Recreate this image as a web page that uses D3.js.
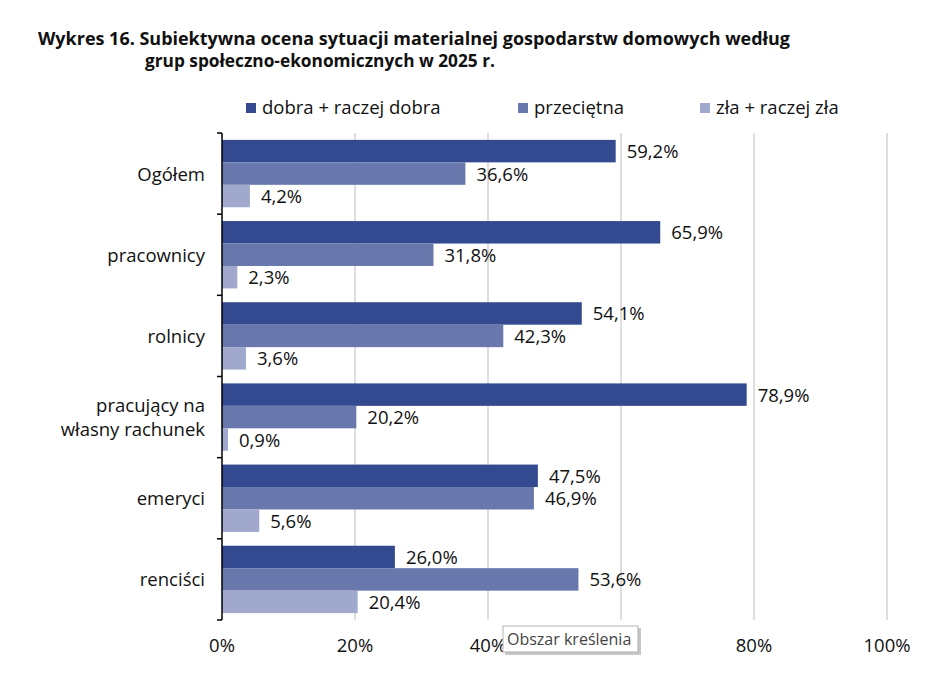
<!DOCTYPE html>
<html>
<head>
<meta charset="utf-8">
<script src="https://cdn.jsdelivr.net/npm/d3@7"></script>
<style>
  body { margin: 0; background: #fff; }
  svg text { font-family: "Open Sans", "Noto Sans", sans-serif; fill: #111; }
</style>
</head>
<body>
<div id="chart"></div>
<script>
// data
const categories = ["Ogółem", "pracownicy", "rolnicy", "pracujący na własny rachunek", "emeryci", "renciści"];
const seriesNames = ["dobra + raczej dobra", "przeciętna", "zła + raczej zła"];
const good = [59.2, 65.9, 54.1, 78.9, 47.5, 26.0];
const average = [36.6, 31.8, 42.3, 20.2, 46.9, 53.6];
const bad = [4.2, 2.3, 3.6, 0.9, 5.6, 20.4];
const xTicks = [0, 20, 40, 60, 80, 100];

const colors = ["#334a91", "#6878ad", "#a0a9cd"];
const series = [good, average, bad];

const width = 934, height = 682;
const margin = { top: 133, right: 47, bottom: 62, left: 222 };
const fs = 18.5;

const svg = d3.select("#chart").append("svg")
  .attr("width", width)
  .attr("height", height);

// Title
svg.append("text")
  .attr("x", 38).attr("y", 45)
  .attr("font-size", 18).attr("font-weight", "bold")
  .attr("textLength", 752).attr("lengthAdjust", "spacingAndGlyphs")
  .text("Wykres 16. Subiektywna ocena sytuacji materialnej gospodarstw domowych według");
svg.append("text")
  .attr("x", 145).attr("y", 67)
  .attr("font-size", 18).attr("font-weight", "bold")
  .attr("textLength", 350).attr("lengthAdjust", "spacingAndGlyphs")
  .text("grup społeczno-ekonomicznych w 2025 r.");

// Legend
const legendX = [246, 518, 700];
const legend = svg.append("g");
seriesNames.forEach((name, i) => {
  legend.append("rect")
    .attr("x", legendX[i]).attr("y", 103)
    .attr("width", 10).attr("height", 10)
    .attr("fill", colors[i]);
  legend.append("text")
    .attr("x", legendX[i] + 16).attr("y", 114)
    .attr("font-size", fs)
    .text(name);
});

const x = d3.scaleLinear()
  .domain([0, 100])
  .range([margin.left, width - margin.right]);

const y0 = d3.scaleBand()
  .domain(categories)
  .range([margin.top, height - margin.bottom])
  .paddingInner(0.17)
  .paddingOuter(0.085);

const y1 = d3.scaleBand()
  .domain(d3.range(3))
  .range([0, y0.bandwidth()]);

// Grid lines
svg.append("g")
  .selectAll("line")
  .data(xTicks.filter(d => d > 0))
  .join("line")
  .attr("x1", d => x(d)).attr("x2", d => x(d))
  .attr("y1", margin.top).attr("y2", height - margin.bottom)
  .attr("stroke", "#bdbdbd").attr("stroke-width", 1);

// Bars
const groups = svg.append("g")
  .selectAll("g")
  .data(categories)
  .join("g")
  .attr("transform", d => `translate(0,${y0(d)})`);

groups.selectAll("rect")
  .data((d, i) => series.map((s, k) => ({ k, v: s[i] })))
  .join("rect")
  .attr("x", x(0))
  .attr("y", d => y1(d.k))
  .attr("width", d => x(d.v) - x(0))
  .attr("height", y1.bandwidth())
  .attr("fill", d => colors[d.k]);

groups.selectAll("text")
  .data((d, i) => series.map((s, k) => ({ k, v: s[i] })))
  .join("text")
  .attr("x", d => x(d.v) + 11)
  .attr("y", d => y1(d.k) + y1.bandwidth() / 2 + 7)
  .attr("font-size", fs)
  .text(d => d.v.toFixed(1).replace(".", ",") + "%");

// Y axis with boundary ticks
const yAxis = svg.append("g");
yAxis.append("line")
  .attr("x1", x(0)).attr("x2", x(0))
  .attr("y1", margin.top).attr("y2", height - margin.bottom)
  .attr("stroke", "#000").attr("stroke-width", 1.5);
const step = (height - margin.bottom - margin.top) / categories.length;
yAxis.selectAll(".tick")
  .data(d3.range(categories.length + 1))
  .join("line")
  .attr("x1", x(0) - 5).attr("x2", x(0))
  .attr("y1", d => margin.top + d * step)
  .attr("y2", d => margin.top + d * step)
  .attr("stroke", "#000").attr("stroke-width", 1.5);

// Category labels
const labelLines = { "pracujący na własny rachunek": ["pracujący na", "własny rachunek"] };
categories.forEach(c => {
  const lines = labelLines[c] || [c];
  const cy = y0(c) + y0.bandwidth() / 2;
  const t = svg.append("text")
    .attr("text-anchor", "end")
    .attr("font-size", fs);
  lines.forEach((l, j) => {
    t.append("tspan")
      .attr("x", 205)
      .attr("y", cy + 7 + (j - (lines.length - 1) / 2) * 24)
      .text(l);
  });
});

// X axis labels (60% sits under the tooltip as in the reference)
svg.append("g")
  .selectAll("text")
  .data(xTicks.filter(d => d !== 60))
  .join("text")
  .attr("x", d => x(d))
  .attr("y", 652)
  .attr("text-anchor", "middle")
  .attr("font-size", fs)
  .text(d => d + "%");

// Tooltip
const tip = svg.append("g").attr("transform", "translate(503,626)");
tip.append("rect")
  .attr("x", 2).attr("y", 2).attr("width", 136).attr("height", 27)
  .attr("fill", "#c8c8c8");
tip.append("rect")
  .attr("width", 135).attr("height", 26)
  .attr("fill", "#fff").attr("stroke", "#a0a0a0").attr("stroke-width", 0.8);
tip.append("text")
  .attr("x", 4).attr("y", 19)
  .attr("font-size", 16)
  .style("fill", "#444")
  .text("Obszar kreślenia");
</script>
</body>
</html>
